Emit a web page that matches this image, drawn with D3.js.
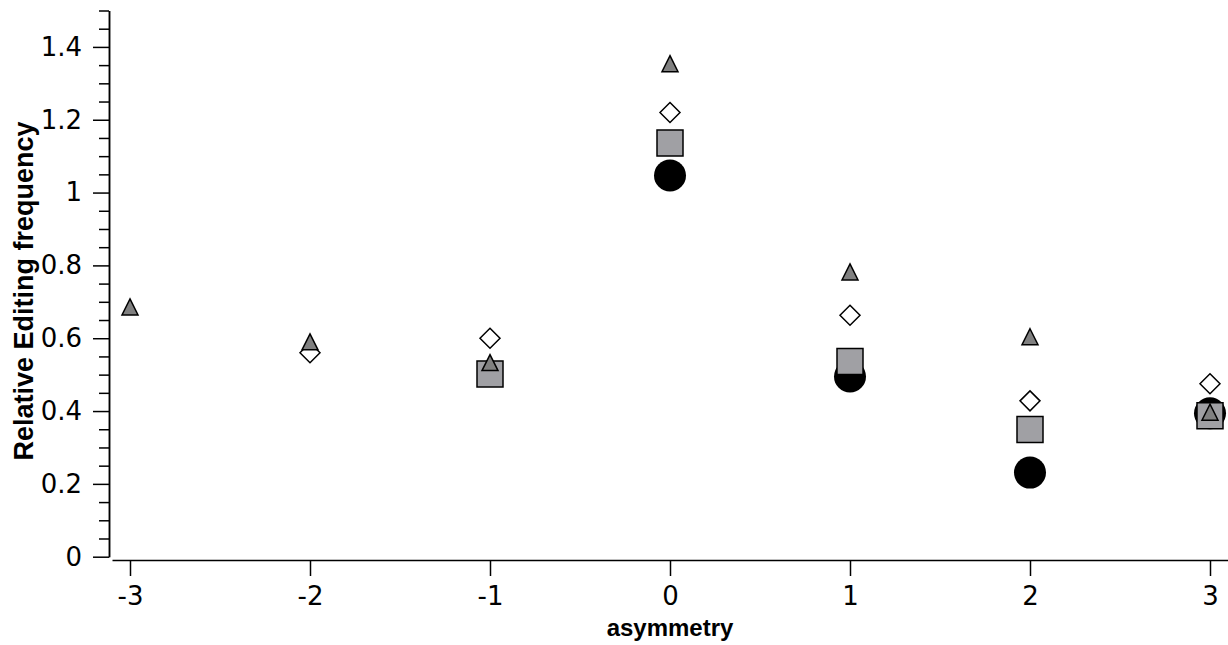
<!DOCTYPE html>
<meta charset="utf-8">
<style>
body { margin: 0; background: #fff; }
.axis path, .axis line { stroke: #000; stroke-width: 1.5px; }
.axis text { font-family: "DejaVu Sans", sans-serif; font-size: 26px; fill: #000; }
.label { font-family: "Liberation Sans", Arial, sans-serif; font-weight: bold; fill: #000; }
</style>
<body>
<script src="https://d3js.org/d3.v7.min.js"></script>
<script>

// asymmetry positions and the four series (null = no point)
var asym = [-3, -2, -1, 0, 1, 2, 3];
var circleVals   = [null, null, null, 1.047, 0.495, 0.231, 0.394];
var squareVals   = [null, null, 0.502, 1.136, 0.536, 0.349, 0.387];
var diamondVals  = [null, 0.560, 0.600, 1.220, 0.663, 0.428, 0.475];
var triangleVals = [0.686, 0.590, 0.533, 1.354, 0.782, 0.604, 0.397];

var xTicks = [-3, -2, -1, 0, 1, 2, 3];
var yTicks = [0, 0.2, 0.4, 0.6, 0.8, 1, 1.2, 1.4];

var width = 1228, height = 645;

var svg = d3.select("body").append("svg")
    .attr("width", width)
    .attr("height", height);

// set the ranges
var x = d3.scaleLinear().domain([-3.1, 3.1]).range([112, 1228]);
var y = d3.scaleLinear().domain([0, 1.5]).range([556.7, 10.5]);

// minor ticks on y every 0.05
var yMinor = d3.range(0, 31).map(function(i) { return +(i * 0.05).toFixed(2); })
  .filter(function(v) { return yTicks.indexOf(v) < 0; });

svg.append("g")
    .attr("class", "axis")
    .attr("transform", "translate(109,0)")
    .call(d3.axisLeft(y).tickValues(yMinor).tickSize(10).tickSizeOuter(0).tickFormat(""));

svg.append("g")
    .attr("class", "axis")
    .attr("transform", "translate(109,0)")
    .call(d3.axisLeft(y).tickValues(yTicks).tickSize(16).tickSizeOuter(0).tickPadding(11)
      .tickFormat(function(d) { return d3.format("")(+d.toFixed(1)); }));

svg.append("g")
    .attr("class", "axis")
    .attr("transform", "translate(0,560)")
    .call(d3.axisBottom(x).tickValues(xTicks).tickSize(16).tickSizeOuter(0).tickPadding(11)
      .tickFormat(d3.format("")));

// hyphen-minus like the original labels
svg.selectAll(".axis text").text(function() { return this.textContent.replace("\u2212", "-"); });

svg.append("text")
    .attr("class", "label")
    .attr("x", x(0))
    .attr("y", 636)
    .attr("text-anchor", "middle")
    .style("font-size", "24px")
    .text("asymmetry");

svg.append("text")
    .attr("class", "label")
    .attr("transform", "translate(33,291) rotate(-90)")
    .attr("text-anchor", "middle")
    .style("font-size", "27px")
    .text("Relative Editing frequency");

// marker shapes, centred on their bounding box
var triangleSym = { draw: function(ctx, s) {
  ctx.moveTo(0, -s / 2); ctx.lineTo(s / 2, s / 2); ctx.lineTo(-s / 2, s / 2); ctx.closePath();
}};
var diamondSym = { draw: function(ctx, s) {
  ctx.moveTo(0, -s / 2); ctx.lineTo(s / 2, 0); ctx.lineTo(0, s / 2); ctx.lineTo(-s / 2, 0); ctx.closePath();
}};
var squareSym = { draw: function(ctx, s) { ctx.rect(-s / 2, -s / 2, s, s); } };
var circleSym = { draw: function(ctx, s) { ctx.moveTo(s / 2, 0); ctx.arc(0, 0, s / 2, 0, 2 * Math.PI); } };

var series = [
  { vals: circleVals,   sym: circleSym,   size: 32, fill: "#000",    stroke: "none" },
  { vals: squareVals,   sym: squareSym,   size: 26, fill: "#a0a0a4", stroke: "#000" },
  { vals: diamondVals,  sym: diamondSym,  size: 20, fill: "#fff",    stroke: "#000" },
  { vals: triangleVals, sym: triangleSym, size: 16, fill: "#808080", stroke: "#000" }
];

series.forEach(function(s) {
  var pts = asym.map(function(a, i) { return [a, s.vals[i]]; })
    .filter(function(p) { return p[1] != null; });
  svg.append("g").selectAll("path")
    .data(pts)
    .enter().append("path")
    .attr("transform", function(d) { return "translate(" + x(d[0]) + "," + y(d[1]) + ")"; })
    .attr("d", d3.symbol().type(s.sym).size(s.size))
    .attr("fill", s.fill)
    .attr("stroke", s.stroke)
    .attr("stroke-width", 1.5)
    .attr("stroke-linejoin", "miter");
});

</script>
</body>
